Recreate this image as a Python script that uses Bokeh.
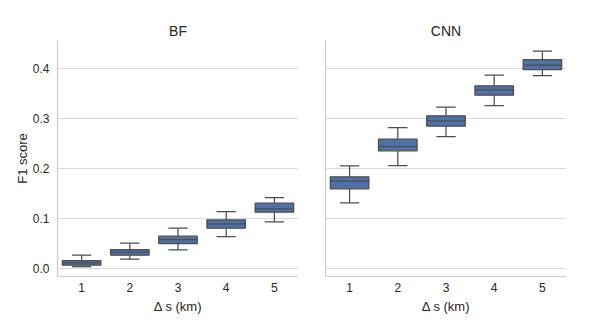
from bokeh.plotting import figure
from bokeh.layouts import row, column
from bokeh.models import Range1d, FixedTicker, ColumnDataSource, PrintfTickFormatter, Spacer
from bokeh.embed import file_html
from bokeh.resources import INLINE

categories = ["1", "2", "3", "4", "5"]
y_ticks = [0.0, 0.1, 0.2, 0.3, 0.4]

# BF panel
bf_low = [0.004, 0.0187, 0.0373, 0.064, 0.0933]
bf_q1 = [0.0067, 0.0267, 0.050, 0.0807, 0.1127]
bf_med = [0.0114, 0.0327, 0.058, 0.0893, 0.1193]
bf_q3 = [0.016, 0.038, 0.0647, 0.0973, 0.1307]
bf_high = [0.0267, 0.0507, 0.0807, 0.114, 0.142]

# CNN panel
cnn_low = [0.1313, 0.206, 0.264, 0.326, 0.386]
cnn_q1 = [0.1593, 0.2353, 0.2847, 0.3467, 0.398]
cnn_med = [0.1747, 0.244, 0.2953, 0.3573, 0.4067]
cnn_q3 = [0.1833, 0.2587, 0.3053, 0.3653, 0.418]
cnn_high = [0.2053, 0.282, 0.3227, 0.3867, 0.4347]

FILL = "#5070a8"
LINE = "#4d4d4d"
TEXT = "#262626"
GRID = "#d9d9d9"
FONT = "Liberation Sans"


def panel(title, low, q1, med, q3, high, show_y):
    p = figure(frame_width=241, frame_height=236, output_backend="svg", toolbar_location=None,
               x_range=Range1d(-0.5, 4.5), y_range=Range1d(-0.016, 0.456),
               min_border=0)
    p.outline_line_color = None
    p.background_fill_color = "white"
    p.border_fill_color = "white"
    xs = list(range(len(categories)))
    src = ColumnDataSource(dict(
        x=xs, xl=[x - 0.2 for x in xs], xr=[x + 0.2 for x in xs],
        bl=[x - 0.4 for x in xs], br=[x + 0.4 for x in xs],
        low=low, q1=q1, med=med, q3=q3, high=high))
    lw = 1.25
    p.segment(x0="x", y0="q3", x1="x", y1="high", source=src, line_color=LINE, line_width=lw)
    p.segment(x0="x", y0="low", x1="x", y1="q1", source=src, line_color=LINE, line_width=lw)
    p.segment(x0="xl", y0="high", x1="xr", y1="high", source=src, line_color=LINE, line_width=lw)
    p.segment(x0="xl", y0="low", x1="xr", y1="low", source=src, line_color=LINE, line_width=lw)
    p.quad(left="bl", right="br", bottom="q1", top="q3", source=src,
           fill_color=FILL, line_color=LINE, line_width=lw)
    p.segment(x0="bl", y0="med", x1="br", y1="med", source=src, line_color=LINE, line_width=lw)

    p.title.text = title
    p.title.align = "center"
    p.title.text_font = FONT
    p.title.text_font_size = "14px"
    p.title.text_font_style = "normal"
    p.title.text_color = TEXT
    p.title.standoff = 3

    p.xgrid.grid_line_color = None
    p.ygrid.grid_line_color = GRID
    p.ygrid.grid_line_width = 1
    p.ygrid.ticker = FixedTicker(ticks=y_ticks)

    xa = p.xaxis[0]
    xa.ticker = FixedTicker(ticks=xs)
    xa.major_label_overrides = {i: c for i, c in enumerate(categories)}
    xa.axis_label = "Δ s (km)"
    ya = p.yaxis[0]
    ya.ticker = FixedTicker(ticks=y_ticks)
    ya.formatter = PrintfTickFormatter(format="%.1f")
    ya.axis_label = "F1 score" if show_y else None
    for ax in (xa, ya):
        ax.axis_line_color = "#cccccc"
        ax.axis_line_width = 1.2
        ax.major_tick_line_color = None
        ax.minor_tick_line_color = None
        ax.major_tick_out = 0
        ax.major_tick_in = 0
        ax.major_label_text_font = FONT
        ax.major_label_text_font_size = "12px"
        ax.major_label_text_color = TEXT
        ax.axis_label_text_font = FONT
        ax.axis_label_text_font_size = "13px"
        ax.axis_label_text_font_style = "normal"
        ax.axis_label_text_color = TEXT
        ax.major_label_standoff = 8
    xa.major_label_standoff = 6
    xa.axis_label_standoff = 4
    ya.axis_label_standoff = 0
    if not show_y:
        ya.major_label_text_font_size = "0px"
        ya.major_label_text_color = None
        ya.major_label_standoff = 0
    return p


p1 = panel("BF", bf_low, bf_q1, bf_med, bf_q3, bf_high, True)
p2 = panel("CNN", cnn_low, cnn_q1, cnn_med, cnn_q3, cnn_high, False)
p = column(Spacer(width=580, height=19),
           row(Spacer(width=11, height=10), p1, Spacer(width=27, height=10), p2))

open("out.html", "w").write(file_html(p, INLINE))
